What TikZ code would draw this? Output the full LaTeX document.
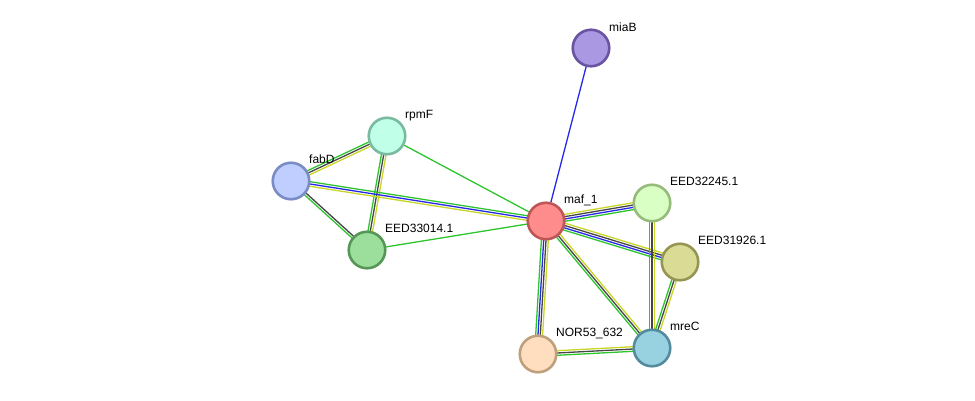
\documentclass[tikz,border=0pt]{standalone}
\usepackage{fontspec}
\setmainfont{Liberation Sans}
\usepackage{tikz}
\usetikzlibrary{calc,backgrounds}

\definecolor{lgreen}{RGB}{46,196,46}
\definecolor{lblue}{RGB}{40,40,235}
\definecolor{lyellow}{RGB}{200,214,40}
\definecolor{lblack}{RGB}{70,70,70}

% several parallel lines between two proteins
\newcommand{\Link}[4]{%
	\foreach \col [count=\i] in {#4} {
		\pgfmathsetmacro{\off}{((#3+1)/2-\i)*2.3}
		\draw [Edge, \col] ($(#1)!\off pt!90:(#2)$) -- ($(#2)!\off pt!-90:(#1)$);
	}%
}

\begin{document}
\begin{tikzpicture}[x=1pt, y=-1pt]
			\tikzstyle{Protein} = [circle, draw, solid, line width=2.6pt, minimum size=36.5pt, inner sep=0pt]
			\tikzstyle{Name}	= [anchor=base west, font=\fontsize{12}{14}\selectfont, inner sep=0pt]
			\tikzstyle{Edge}	= [line width=1.3pt]
			
			\useasboundingbox (0,0) rectangle (975,400);
			
			\node (miaB) at (591, 48) [Protein, fill={rgb,255:red,170;green,152;blue,226}, draw={rgb,255:red,104;green,84;blue,160}] {};
			\node (rpmF) at (387, 136) [Protein, fill={rgb,255:red,192;green,255;blue,232}, draw={rgb,255:red,122;green,186;blue,160}] {};
			\node (fabD) at (291, 181) [Protein, fill={rgb,255:red,192;green,206;blue,255}, draw={rgb,255:red,122;green,140;blue,196}] {};
			\node (EED33014) at (367, 250) [Protein, fill={rgb,255:red,156;green,222;blue,156}, draw={rgb,255:red,86;green,150;blue,86}] {};
			\node (maf) at (546, 221) [Protein, fill={rgb,255:red,255;green,140;blue,140}, draw={rgb,255:red,190;green,86;blue,86}] {};
			\node (EED32245) at (652, 203) [Protein, fill={rgb,255:red,218;green,255;blue,196}, draw={rgb,255:red,150;green,188;blue,124}] {};
			\node (EED31926) at (680, 262) [Protein, fill={rgb,255:red,218;green,220;blue,150}, draw={rgb,255:red,150;green,150;blue,84}] {};
			\node (mreC) at (652, 348) [Protein, fill={rgb,255:red,152;green,210;blue,224}, draw={rgb,255:red,84;green,140;blue,158}] {};
			\node (NOR53) at (538, 354) [Protein, fill={rgb,255:red,255;green,222;blue,192}, draw={rgb,255:red,190;green,160;blue,124}] {};
			
			\node at ([shift={(18pt,16.5pt)}]miaB.center) [Name] {miaB};
			\node at ([shift={(18pt,17.5pt)}]rpmF.center) [Name] {rpmF};
			\node at ([shift={(18pt,17.5pt)}]fabD.center) [Name] {fabD};
			\node at ([shift={(18pt,17.5pt)}]EED33014.center) [Name] {EED33014.1};
			\node at ([shift={(18pt,17.5pt)}]maf.center) [Name] {maf\_1};
			\node at ([shift={(18pt,17.5pt)}]EED32245.center) [Name] {EED32245.1};
			\node at ([shift={(18pt,17.5pt)}]EED31926.center) [Name] {EED31926.1};
			\node at ([shift={(18pt,17.5pt)}]mreC.center) [Name] {mreC};
			\node at ([shift={(18pt,17.5pt)}]NOR53.center) [Name] {NOR53\_632};
			
			\begin{pgfonlayer}{background}
			\draw [Edge, lblue] (maf) to (miaB);
			\draw [Edge, lgreen] (rpmF) to (maf);
			\draw [Edge, lgreen] (EED33014) to (maf);
			\Link{fabD}{rpmF}{3}{lgreen,lblack,lyellow}
			\Link{EED33014}{rpmF}{3}{lgreen,lblack,lyellow}
			\Link{fabD}{EED33014}{2}{lblack,lgreen}
			\Link{fabD}{maf}{3}{lgreen,lblue,lyellow}
			\Link{maf}{EED32245}{4}{lyellow,lblack,lblue,lgreen}
			\Link{maf}{EED31926}{4}{lyellow,lblack,lblue,lgreen}
			\Link{mreC}{maf}{3}{lgreen,lblack,lyellow}
			\Link{NOR53}{maf}{4}{lgreen,lblue,lblack,lyellow}
			\Link{NOR53}{mreC}{3}{lyellow,lblack,lgreen}
			\Link{mreC}{EED32245}{3}{lgreen,lblack,lyellow}
			\Link{mreC}{EED31926}{3}{lgreen,lblack,lyellow}
			\end{pgfonlayer}
		\end{tikzpicture}
\end{document}
